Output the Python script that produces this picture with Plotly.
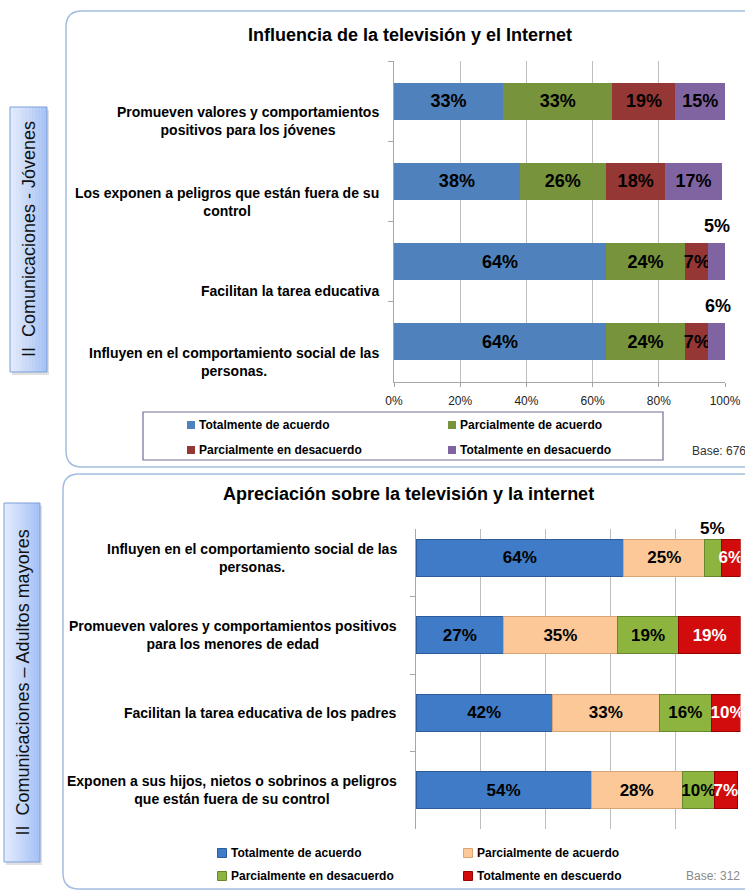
import plotly.graph_objects as go

W, H = 745, 890

# ---------------- data ----------------
series_names_jovenes = [
    "Totalmente de acuerdo",
    "Parcialmente de acuerdo",
    "Parcialmente en desacuerdo",
    "Totalmente en desacuerdo",
]
categories_jovenes = [
    "Promueven valores y comportamientos<br>positivos para los jóvenes",
    "Los exponen a peligros que están fuera de su<br>control",
    "Facilitan la tarea educativa",
    "Influyen en el comportamiento social de las<br>personas.",
]
jov_total_acuerdo = [33, 38, 64, 64]
jov_parcial_acuerdo = [33, 26, 24, 24]
jov_parcial_desacuerdo = [19, 18, 7, 7]
jov_total_desacuerdo = [15, 17, 5, 6]

series_names_adultos = [
    "Totalmente de acuerdo",
    "Parcialmente de acuerdo",
    "Parcialmente en desacuerdo",
    "Totalmente en descuerdo",
]
categories_adultos = [
    "Influyen en el comportamiento social de las<br>personas.",
    "Promueven valores y comportamientos positivos<br>para los menores de edad",
    "Facilitan la tarea educativa de los padres",
    "Exponen a sus hijos, nietos o sobrinos a peligros<br>que están fuera de su control",
]
adu_total_acuerdo = [64, 27, 42, 54]
adu_parcial_acuerdo = [25, 35, 33, 28]
adu_parcial_desacuerdo = [5, 19, 16, 10]
adu_total_desacuerdo = [6, 19, 10, 7]

pct_ticks = [0, 20, 40, 60, 80, 100]

title_jovenes = "Influencia de la televisión y el Internet"
title_adultos = "Apreciación sobre la televisión y la internet"
side_jovenes = "II\u00a0\u00a0Comunicaciones - Jóvenes"
side_adultos = "II\u00a0\u00a0Comunicaciones – Adultos mayores"
base_jovenes = "Base: 676"
base_adultos = "Base: 312"

# ---------------- styling ----------------
FONT = "Liberation Sans, Arial, Helvetica, sans-serif"
colors_jov = ["#4f81bd", "#77933c", "#953735", "#8064a2"]
colors_adu = ["#3f7bc6", "#fcc897", "#8cb43e", "#d20c0c"]
lines_adu = ["#2c5c9a", "#d9a577", "#66872a", "#9a0000"]
text_adu = ["#000000", "#000000", "#000000", "#ffffff"]


def px(x):
    return x / W


def py(y):
    return 1 - y / H


def rounded_path(x0, y0, x1, y1, r):
    return " ".join([
        f"M{px(x0 + r)},{py(y0)}",
        f"L{px(x1 - r)},{py(y0)}",
        f"Q{px(x1)},{py(y0)} {px(x1)},{py(y0 + r)}",
        f"L{px(x1)},{py(y1 - r)}",
        f"Q{px(x1)},{py(y1)} {px(x1 - r)},{py(y1)}",
        f"L{px(x0 + r)},{py(y1)}",
        f"Q{px(x0)},{py(y1)} {px(x0)},{py(y1 - r)}",
        f"L{px(x0)},{py(y0 + r)}",
        f"Q{px(x0)},{py(y0)} {px(x0 + r)},{py(y0)}",
        "Z",
    ])


fig = go.Figure()
shapes = []
annotations = []


def add_stack(cats, series, names, colors, xa, ya, width, font_size,
              small_limit, small_shift, line_colors=None, text_colors=None):
    starts = [0] * len(cats)
    for k, vals in enumerate(series):
        labels = [f"{v}%" if v >= small_limit else "" for v in vals]
        fig.add_trace(go.Bar(
            orientation="h", y=cats, x=vals, name=names[k],
            xaxis=xa, yaxis=ya, width=width,
            marker=dict(color=colors[k],
                        line=dict(color=line_colors[k] if line_colors else colors[k],
                                  width=1 if line_colors else 0)),
            text=labels, textposition="inside", insidetextanchor="middle",
            textangle=0, constraintext="none",
            textfont=dict(family=FONT, size=font_size, weight="bold",
                          color=text_colors[k] if text_colors else "#000000"),
            showlegend=False, hoverinfo="skip",
        ))
        for i, v in enumerate(vals):
            if v < small_limit:
                annotations.append(dict(
                    x=starts[i] + v / 2, y=i, xref=xa, yref=ya,
                    text=f"{v}%", showarrow=False, yshift=small_shift,
                    xanchor="center", yanchor="middle",
                    font=dict(family=FONT, size=font_size, color="#000000", weight="bold"),
                ))
            starts[i] += v


# top chart
add_stack(categories_jovenes,
          [jov_total_acuerdo, jov_parcial_acuerdo, jov_parcial_desacuerdo, jov_total_desacuerdo],
          series_names_jovenes, colors_jov, "x", "y", 0.46, 18, 7, 36)
# bottom chart
add_stack(categories_adultos,
          [adu_total_acuerdo, adu_parcial_acuerdo, adu_parcial_desacuerdo, adu_total_desacuerdo],
          series_names_adultos, colors_adu, "x2", "y2", 0.48, 17, 6, 29,
          line_colors=lines_adu, text_colors=text_adu)

# panel frames
shapes.append(dict(type="path", path=rounded_path(66, 11, 790, 467, 16),
                   xref="paper", yref="paper", line=dict(color="#a3bde0", width=1.5),
                   layer="below"))
shapes.append(dict(type="path", path=rounded_path(63, 474, 790, 889, 16),
                   xref="paper", yref="paper", line=dict(color="#a3bde0", width=1.5),
                   layer="below"))


def text_at(x, y, text, size, color="#000000", bold=False, xanchor="center", **extra):
    font = dict(family=FONT, size=size, color=color)
    if bold:
        font["weight"] = "bold"
    annotations.append(dict(x=px(x), y=py(y), xref="paper", yref="paper", text=text,
                            showarrow=False, xanchor=xanchor, yanchor="middle",
                            font=font, **extra))


# side boxes with a left-to-right blue gradient
def side_box(x0, y0, x1, y1, text):
    shapes.append(dict(type="rect", xref="paper", yref="paper",
                       x0=px(x0 + 2), x1=px(x1 + 2), y0=py(y1 + 3), y1=py(y0 + 3),
                       fillcolor="rgba(0,0,0,0.12)", line=dict(width=0), layer="below"))
    steps = 12
    c0 = (226, 235, 253)
    c1 = (166, 194, 245)
    for s in range(steps):
        t = s / (steps - 1)
        col = tuple(round(c0[j] + (c1[j] - c0[j]) * t) for j in range(3))
        sx0 = x0 + (x1 - x0) * s / steps
        sx1 = x0 + (x1 - x0) * (s + 1) / steps
        shapes.append(dict(type="rect", xref="paper", yref="paper",
                           x0=px(sx0), x1=px(sx1), y0=py(y1), y1=py(y0),
                           fillcolor="rgb(%d,%d,%d)" % col, line=dict(width=0),
                           layer="below"))
    shapes.append(dict(type="rect", xref="paper", yref="paper",
                       x0=px(x0), x1=px(x1), y0=py(y1), y1=py(y0),
                       line=dict(color="#7d9fd8", width=1), layer="below"))
    text_at((x0 + x1) / 2, (y0 + y1) / 2, text, 18, color="#111111", textangle=-90)


side_box(10, 107, 47, 372, side_jovenes)
side_box(4, 503, 40, 862, side_adultos)

# titles
text_at(410, 35, title_jovenes, 18, bold=True)
text_at(408, 494, title_adultos, 18, bold=True)

# category labels
for i, c in enumerate(categories_jovenes):
    annotations.append(dict(x=px(381), y=i + 0.5, xref="paper", yref="y", text=c,
                            xanchor="right", yanchor="bottom", align="center", showarrow=False,
                            yshift=1,
                            font=dict(family=FONT, size=14, color="#000", weight="bold")))
for i, c in enumerate(categories_adultos):
    annotations.append(dict(x=px(399), y=i, xref="paper", yref="y2", text=c,
                            xanchor="right", yanchor="middle", align="center", showarrow=False,
                            font=dict(family=FONT, size=14, color="#000", weight="bold")))

# legend of the top chart (boxed)
shapes.append(dict(type="rect", xref="paper", yref="paper", x0=px(143), x1=px(663),
                   y0=py(460), y1=py(412), line=dict(color="#7b6a9c", width=1.2)))
leg_cols_top = [191, 452]
leg_rows_top = [425, 450]
for k, name in enumerate(series_names_jovenes):
    cx = leg_cols_top[k % 2]
    cy = leg_rows_top[k // 2]
    shapes.append(dict(type="rect", xref="paper", yref="paper", x0=px(cx - 4), x1=px(cx + 4),
                       y0=py(cy + 4), y1=py(cy - 4), fillcolor=colors_jov[k], line=dict(width=0)))
    text_at(cx + 6, cy, name, 12, bold=True, xanchor="left")
text_at(690, 451, base_jovenes, 12, color="#333333", xanchor="left")

# legend of the bottom chart
leg_cols_bot = [222, 468]
leg_rows_bot = [853, 876]
for k, name in enumerate(series_names_adultos):
    cx = leg_cols_bot[k % 2]
    cy = leg_rows_bot[k // 2]
    shapes.append(dict(type="rect", xref="paper", yref="paper", x0=px(cx - 4.5), x1=px(cx + 4.5),
                       y0=py(cy + 4.5), y1=py(cy - 4.5), fillcolor=colors_adu[k],
                       line=dict(color=lines_adu[k], width=1)))
    text_at(cx + 7, cy, name, 12, bold=True, xanchor="left")
text_at(684, 876, base_adultos, 12, color="#8a8a8a", xanchor="left")

grid = "#bdbdbd"
axis_line = "#a6a6a6"

fig.update_layout(
    width=W, height=H,
    margin=dict(l=0, r=0, t=0, b=0, autoexpand=False),
    paper_bgcolor="white", plot_bgcolor="rgba(0,0,0,0)",
    barmode="stack",
    shapes=shapes,
    annotations=annotations,
    xaxis=dict(domain=[px(394), px(725)], anchor="y", range=[0, 100], automargin=False,
               tickvals=pct_ticks, ticktext=[f"{t}%" for t in pct_ticks],
               showgrid=True, gridcolor=grid, gridwidth=1, zeroline=False,
               showline=True, linecolor=axis_line, ticks="outside", ticklen=4,
               tickcolor=axis_line, ticklabelstandoff=4,
               tickfont=dict(family=FONT, size=12, color="#222222"), fixedrange=True),
    yaxis=dict(domain=[py(382), py(61)], anchor="x", type="category", automargin=False,
               categoryorder="array", categoryarray=categories_jovenes,
               range=[3.5, -0.5], showticklabels=False, ticks="outside",
               tickson="boundaries", ticklen=5, tickcolor=axis_line,
               showline=True, linecolor=axis_line, showgrid=False, zeroline=False,
               fixedrange=True),
    xaxis2=dict(domain=[px(416), px(740.5)], anchor="y2", range=[0, 100], automargin=False,
                tickvals=pct_ticks, showticklabels=False,
                showgrid=True, gridcolor=grid, gridwidth=1, zeroline=False,
                showline=False, ticks="", fixedrange=True),
    yaxis2=dict(domain=[py(829), py(529)], anchor="x2", type="category", automargin=False,
                categoryorder="array", categoryarray=categories_adultos,
                range=[3.5, -0.371], showticklabels=False, ticks="outside",
                tickson="boundaries", ticklen=5, tickcolor=axis_line,
                showline=True, linecolor=axis_line, showgrid=False, zeroline=False,
                fixedrange=True),
)

fig.write_html("out.html")
